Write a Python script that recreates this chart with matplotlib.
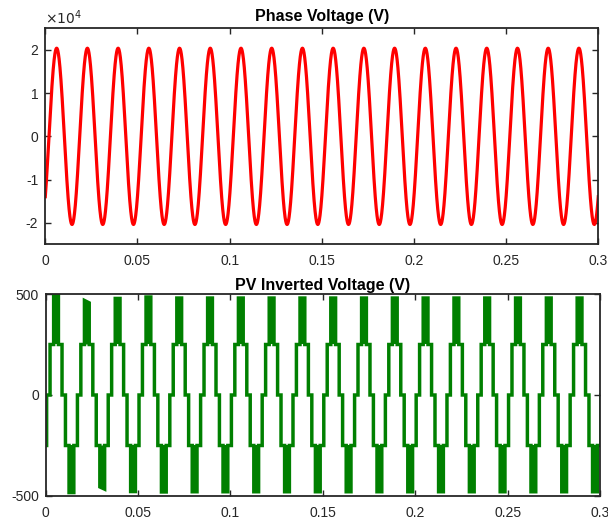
import numpy as np
import matplotlib
matplotlib.use('Agg')
import matplotlib.pyplot as plt

plt.rcParams['font.family'] = ['Liberation Sans', 'DejaVu Sans']
plt.rcParams['axes.unicode_minus'] = False

# grid / time span
f_grid = 60.0          # Hz
t_end = 0.3            # s

# phase voltage (top)
va_amp = 2.04e4        # V peak
va_peak_frac = 0.37    # position of first crest inside the first cycle

# PV inverter output (bottom), 5-level staircase
inv_peak_frac = 0.335  # position of first positive crest inside the first cycle
step_level = 250       # V, first step
step_on_deg = 20       # 0 -> 250 switching angle (deg)
band_on_deg = 62       # start of fast switching between 250 and crest (deg)
# crest level of each positive / negative lobe (start and end of the lobe)
pos_top_start = [500, 468, 478, 485] + [480] * 14
pos_top_end = [500, 456, 478, 485] + [480] * 14
neg_bot_start = [-483, -455, -478, -480] + [-479] * 14
neg_bot_end = [-483, -466, -478, -480] + [-479] * 14

x_ticks = [0, 0.05, 0.1, 0.15, 0.2, 0.25, 0.3]
x_tick_labels = ['0', '0.05', '0.1', '0.15', '0.2', '0.25', '0.3']
va_ticks = [-2e4, -1e4, 0, 1e4, 2e4]
inv_ticks = [-500, 0, 500]

axis_col = '#262626'
red = '#ff0000'
green = '#008000'


def style_axes(ax):
    for s in ax.spines.values():
        s.set_color(axis_col)
        s.set_linewidth(1.3)
    ax.tick_params(direction='in', top=True, right=True, length=4, width=1.0,
                   colors=axis_col, labelsize=10)
    ax.tick_params(axis='x', pad=7)
    ax.tick_params(axis='y', pad=5)
    ax.set_xlim(0, t_end)
    ax.set_xticks(x_ticks)
    ax.set_xticklabels(x_tick_labels)


fig = plt.figure(figsize=(6.08, 5.21), dpi=100)

# ---- top: phase voltage
ax1 = fig.add_axes([0.0745, 0.531, 0.9095, 0.4146])
t = np.linspace(0, t_end, 4000)
phi = np.pi / 2 - 2 * np.pi * va_peak_frac
va = va_amp * np.sin(2 * np.pi * f_grid * t + phi)
ax1.plot(t, va, color=red, lw=2.3)
style_axes(ax1)
ax1.set_ylim(-2.5e4, 2.5e4)
ax1.set_yticks(va_ticks)
ax1.set_yticklabels([f'{v / 1e4:g}' for v in va_ticks])
ax1.set_title('Phase Voltage (V)', fontsize=11.5, fontweight='bold', pad=5)
ax1.text(0.0, 1.008, r'$\times10^{4}$', transform=ax1.transAxes, fontsize=10,
         color=axis_col, ha='left', va='bottom')

# ---- bottom: inverter output
ax2 = fig.add_axes([0.0752, 0.048, 0.9117, 0.3877])
period = 1 / f_grid
xs, ys = [], []
for n in range(-1, 18):
    k = max(n, 0)
    t0 = (n + inv_peak_frac) * period - period / 4   # time of angle 0
    a = lambda deg: t0 + deg / 360 * period
    ptop_s, ptop_e = pos_top_start[k], pos_top_end[k]
    nb_s, nb_e = neg_bot_start[k], neg_bot_end[k]
    seq = [(0, 0), (step_on_deg, 0), (step_on_deg, step_level),
           (band_on_deg, step_level), (band_on_deg, ptop_s),
           (180 - band_on_deg, ptop_e), (180 - band_on_deg, step_level),
           (180 - step_on_deg, step_level), (180 - step_on_deg, 0),
           (180 + step_on_deg, 0), (180 + step_on_deg, -step_level),
           (180 + band_on_deg, -step_level), (180 + band_on_deg, nb_s),
           (360 - band_on_deg, nb_e), (360 - band_on_deg, -step_level),
           (360 - step_on_deg, -step_level), (360 - step_on_deg, 0), (360, 0)]
    for deg, v in seq:
        xs.append(a(deg))
        ys.append(v)
    # fast switching blocks
    ax2.fill([a(band_on_deg), a(band_on_deg), a(180 - band_on_deg), a(180 - band_on_deg)],
             [step_level, ptop_s, ptop_e, step_level], color=green, lw=0)
    ax2.fill([a(180 + band_on_deg), a(180 + band_on_deg), a(360 - band_on_deg), a(360 - band_on_deg)],
             [-step_level, nb_s, nb_e, -step_level], color=green, lw=0)

ax2.plot(xs, ys, color=green, lw=2.5, solid_joinstyle='miter', solid_capstyle='butt')
style_axes(ax2)
ax2.set_ylim(-500, 500)
ax2.set_yticks(inv_ticks)
ax2.set_title('PV Inverted Voltage (V)', fontsize=11.5, fontweight='bold', pad=3)

fig.savefig('out.png', dpi=100)
